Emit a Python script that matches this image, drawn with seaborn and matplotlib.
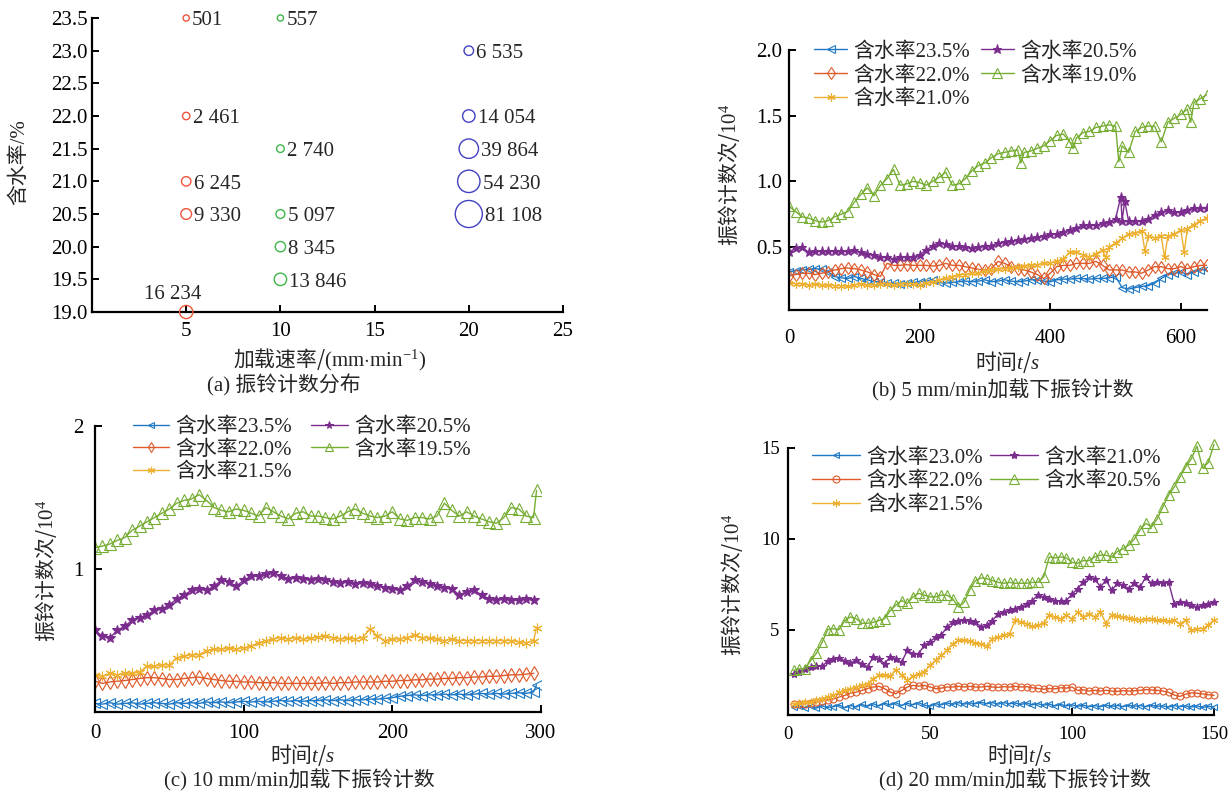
import numpy as np
import pandas as pd
import matplotlib
matplotlib.use("Agg")
import matplotlib.pyplot as plt
import seaborn as sns

sns.set_theme(style="ticks")
plt.rcParams['font.family'] = ['Liberation Serif', 'Noto Sans CJK SC', 'DejaVu Serif']
plt.rcParams['mathtext.fontset'] = 'custom'
plt.rcParams['mathtext.rm'] = 'Liberation Serif'
plt.rcParams['mathtext.it'] = 'Liberation Serif:italic'
plt.rcParams['mathtext.bf'] = 'Liberation Serif:bold'
plt.rcParams['axes.unicode_minus'] = False

# ---------------- (a) ring-down count distribution ----------------
A_RATE = [5, 5, 5, 5, 5,
          10, 10, 10, 10, 10,
          20, 20, 20, 20, 20]
A_WATER = [23.5, 22.0, 21.0, 20.5, 19.0,
           23.5, 21.5, 20.5, 20.0, 19.5,
           23.0, 22.0, 21.5, 21.0, 20.5]
A_COUNT = [501, 2461, 6245, 9330, 16234,
           557, 2740, 5097, 8345, 13846,
           6535, 14054, 39864, 54230, 81108]

# ---------------- (b) 5 mm/min ----------------
B_T = np.arange(0, 641, 10)
B_235 = [0.31, 0.32, 0.325, 0.33, 0.335, 0.33, 0.31, 0.275, 0.265, 0.26,
         0.275, 0.26, 0.25, 0.235, 0.235, 0.225, 0.225, 0.22, 0.225, 0.23,
         0.235, 0.24, 0.25, 0.23, 0.225, 0.23, 0.235, 0.24, 0.235, 0.24,
         0.25, 0.235, 0.24, 0.25, 0.24, 0.235, 0.24, 0.25, 0.25, 0.24,
         0.235, 0.25, 0.255, 0.255, 0.26, 0.26, 0.255, 0.26, 0.26, 0.265,
         0.275, 0.19, 0.18, 0.19, 0.20, 0.205, 0.225, 0.26, 0.29, 0.30,
         0.31, 0.29, 0.31, 0.325, 0.33]
B_220 = [0.28, 0.29, 0.30, 0.30, 0.29, 0.30, 0.31, 0.325, 0.335, 0.34,
         0.335, 0.325, 0.31, 0.29, 0.275, 0.375, 0.36, 0.36, 0.365, 0.36,
         0.36, 0.36, 0.355, 0.36, 0.375, 0.36, 0.36, 0.35, 0.34, 0.33,
         0.325, 0.335, 0.39, 0.375, 0.35, 0.335, 0.325, 0.31, 0.29, 0.26,
         0.30, 0.35, 0.36, 0.36, 0.375, 0.375, 0.375, 0.39, 0.36, 0.325,
         0.325, 0.325, 0.31, 0.31, 0.30, 0.325, 0.35, 0.35, 0.335, 0.335,
         0.35, 0.335, 0.35, 0.36, 0.36]
B_210 = [0.225, 0.22, 0.22, 0.21, 0.22, 0.21, 0.21, 0.205, 0.205, 0.20,
         0.21, 0.22, 0.21, 0.21, 0.22, 0.22, 0.21, 0.22, 0.22, 0.22,
         0.21, 0.225, 0.23, 0.25, 0.26, 0.275, 0.29, 0.29, 0.30, 0.305,
         0.315, 0.325, 0.33, 0.335, 0.34, 0.35, 0.355, 0.36, 0.365, 0.375,
         0.38, 0.39, 0.41, 0.46, 0.46, 0.44, 0.425, 0.45, 0.475, 0.50,
         0.53, 0.565, 0.60, 0.61, 0.62, 0.58, 0.57, 0.58, 0.58, 0.60,
         0.63, 0.64, 0.67, 0.70, 0.72]
B_205 = [0.46, 0.49, 0.50, 0.46, 0.47, 0.47, 0.47, 0.47, 0.47, 0.47,
         0.475, 0.46, 0.45, 0.44, 0.425, 0.42, 0.41, 0.42, 0.425, 0.425,
         0.44, 0.475, 0.51, 0.53, 0.52, 0.51, 0.51, 0.50, 0.49, 0.50,
         0.51, 0.51, 0.53, 0.54, 0.545, 0.55, 0.56, 0.565, 0.575, 0.585,
         0.595, 0.60, 0.615, 0.63, 0.645, 0.665, 0.67, 0.665, 0.68, 0.69,
         0.715, 0.70, 0.695, 0.695, 0.70, 0.715, 0.74, 0.765, 0.78, 0.765,
         0.77, 0.785, 0.795, 0.80, 0.80]
B_190 = [0.81, 0.77, 0.73, 0.72, 0.70, 0.69, 0.70, 0.73, 0.75, 0.77,
         0.84, 0.90, 0.95, 0.89, 0.97, 1.02, 1.09, 0.97, 0.98, 1.00,
         0.99, 0.97, 1.00, 1.03, 1.07, 0.97, 0.98, 1.02, 1.08, 1.12,
         1.14, 1.18, 1.21, 1.22, 1.23, 1.24, 1.22, 1.23, 1.25, 1.27,
         1.31, 1.35, 1.36, 1.30, 1.33, 1.37, 1.38, 1.41, 1.42, 1.43,
         1.42, 1.27, 1.22, 1.38, 1.41, 1.42, 1.42, 1.30, 1.45, 1.48,
         1.51, 1.55, 1.60, 1.63, 1.66]
# isolated sharp excursions between grid samples
B_190_ST, B_190_SV = [355, 435, 505, 615], [1.14, 1.25, 1.15, 1.45]
B_205_ST, B_205_SV = [508, 514], [0.88, 0.85]
B_210_ST, B_210_SV = [485, 545, 575, 605], [0.42, 0.47, 0.42, 0.46]

# ---------------- (c) 10 mm/min ----------------
C_T = np.arange(0, 296, 5)
C_235 = [0.06, 0.055, 0.065, 0.055, 0.06, 0.065, 0.055, 0.06, 0.065, 0.06,
         0.055, 0.065, 0.06, 0.065, 0.06, 0.07, 0.065, 0.07, 0.065, 0.07,
         0.075, 0.07, 0.075, 0.07, 0.075, 0.08, 0.075, 0.08, 0.075, 0.08,
         0.08, 0.085, 0.08, 0.085, 0.08, 0.085, 0.085, 0.09, 0.09, 0.095,
         0.10, 0.11, 0.115, 0.12, 0.115, 0.12, 0.12, 0.125, 0.12, 0.125,
         0.12, 0.125, 0.13, 0.125, 0.13, 0.125, 0.13, 0.135, 0.13, 0.14]
C_220 = [0.215, 0.20, 0.21, 0.215, 0.22, 0.227, 0.234, 0.24, 0.24, 0.234,
         0.227, 0.227, 0.234, 0.24, 0.244, 0.234, 0.227, 0.22, 0.215, 0.215,
         0.21, 0.21, 0.205, 0.205, 0.205, 0.20, 0.20, 0.20, 0.20, 0.20,
         0.20, 0.205, 0.20, 0.205, 0.205, 0.21, 0.21, 0.21, 0.21, 0.215,
         0.215, 0.22, 0.22, 0.225, 0.225, 0.23, 0.23, 0.235, 0.235, 0.24,
         0.24, 0.245, 0.245, 0.25, 0.25, 0.255, 0.26, 0.26, 0.265, 0.27]
C_215 = [0.26, 0.25, 0.27, 0.26, 0.27, 0.27, 0.28, 0.32, 0.32, 0.33,
         0.33, 0.38, 0.39, 0.40, 0.40, 0.43, 0.44, 0.44, 0.445, 0.44,
         0.45, 0.46, 0.485, 0.50, 0.51, 0.52, 0.51, 0.52, 0.51, 0.515,
         0.525, 0.53, 0.52, 0.51, 0.515, 0.51, 0.52, 0.58, 0.53, 0.50,
         0.51, 0.51, 0.52, 0.54, 0.52, 0.515, 0.51, 0.50, 0.51, 0.50,
         0.50, 0.50, 0.50, 0.50, 0.50, 0.50, 0.50, 0.49, 0.485, 0.50]
C_205 = [0.57, 0.53, 0.52, 0.57, 0.60, 0.64, 0.66, 0.68, 0.71, 0.72,
         0.75, 0.79, 0.82, 0.85, 0.86, 0.85, 0.88, 0.92, 0.91, 0.88,
         0.92, 0.95, 0.95, 0.965, 0.97, 0.95, 0.93, 0.94, 0.93, 0.92,
         0.93, 0.92, 0.91, 0.90, 0.91, 0.895, 0.90, 0.895, 0.88, 0.87,
         0.86, 0.85, 0.88, 0.92, 0.91, 0.895, 0.88, 0.87, 0.86, 0.82,
         0.84, 0.85, 0.82, 0.79, 0.78, 0.79, 0.78, 0.78, 0.79, 0.78]
C_195 = [1.15, 1.16, 1.175, 1.20, 1.22, 1.27, 1.30, 1.33, 1.36, 1.39,
         1.42, 1.46, 1.48, 1.49, 1.52, 1.48, 1.43, 1.41, 1.40, 1.42,
         1.41, 1.39, 1.37, 1.43, 1.40, 1.37, 1.35, 1.39, 1.40, 1.37,
         1.37, 1.36, 1.35, 1.37, 1.40, 1.42, 1.39, 1.37, 1.36, 1.37,
         1.40, 1.35, 1.34, 1.36, 1.36, 1.35, 1.37, 1.46, 1.41, 1.37,
         1.40, 1.37, 1.35, 1.33, 1.32, 1.36, 1.43, 1.42, 1.37, 1.36]
C_195_ST, C_195_SV = [297], [1.55]
C_215_ST, C_215_SV = [297], [0.59]
C_235_ST, C_235_SV = [297], [0.19]

# ---------------- (d) 20 mm/min ----------------
D_T = np.arange(2, 151, 2)
D_230 = [0.72, 0.80, 0.70, 0.78, 0.68, 0.80, 0.72, 0.76, 0.85, 0.70,
         0.82, 0.74, 0.88, 0.78, 0.92, 0.80, 0.95, 0.85, 0.98, 0.82,
         0.95, 0.86, 0.98, 0.84, 0.78, 0.92, 0.86, 0.96, 0.88, 0.98,
         0.90, 0.96, 0.92, 1.00, 0.92, 0.98, 0.90, 0.98, 0.92, 0.96,
         0.88, 0.96, 0.86, 0.92, 0.84, 0.90, 0.80, 0.88, 0.80, 0.86,
         0.78, 0.84, 0.76, 0.82, 0.76, 0.84, 0.78, 0.82, 0.76, 0.84,
         0.78, 0.82, 0.76, 0.84, 0.78, 0.80, 0.74, 0.82, 0.76, 0.80,
         0.74, 0.80, 0.72, 0.78, 0.74]
D_220 = [0.92, 0.88, 0.92, 0.96, 1.01, 1.07, 1.14, 1.19, 1.29, 1.38,
         1.51, 1.56, 1.65, 1.75, 1.84, 1.88, 1.75, 1.56, 1.47, 1.65,
         1.84, 1.93, 1.89, 1.93, 1.84, 1.75, 1.78, 1.84, 1.84, 1.88,
         1.84, 1.88, 1.84, 1.84, 1.88, 1.84, 1.82, 1.86, 1.84, 1.88,
         1.84, 1.86, 1.80, 1.76, 1.72, 1.76, 1.74, 1.80, 1.78, 1.84,
         1.65, 1.69, 1.62, 1.66, 1.62, 1.66, 1.62, 1.60, 1.64, 1.62,
         1.64, 1.66, 1.70, 1.68, 1.66, 1.62, 1.55, 1.40, 1.32, 1.45,
         1.52, 1.50, 1.46, 1.42, 1.38]
D_215 = [0.92, 0.96, 1.01, 1.01, 1.14, 1.19, 1.29, 1.38, 1.56, 1.65,
         1.75, 1.84, 1.93, 2.02, 2.30, 2.48, 2.48, 2.43, 2.80, 2.50,
         2.20, 2.45, 2.57, 2.67, 3.03, 3.31, 3.58, 3.86, 4.23, 4.41,
         4.41, 4.38, 4.26, 4.23, 4.08, 4.50, 4.60, 4.69, 4.78, 5.51,
         5.42, 5.33, 5.18, 5.24, 5.37, 5.79, 5.70, 5.60, 5.79, 5.60,
         5.97, 5.70, 5.88, 5.70, 5.97, 5.33, 5.79, 5.74, 5.70, 5.66,
         5.60, 5.55, 5.58, 5.60, 5.51, 5.51, 5.48, 5.51, 5.33, 5.51,
         4.96, 5.06, 5.06, 5.24, 5.55]
D_210 = [2.57, 2.67, 2.85, 2.94, 2.98, 2.98, 3.27, 3.40, 3.46, 3.27,
         3.16, 3.31, 3.13, 2.94, 3.50, 3.40, 3.13, 3.50, 3.40, 3.20,
         3.86, 3.68, 3.68, 4.14, 4.32, 4.60, 4.70, 5.15, 5.42, 5.50,
         5.55, 5.50, 5.42, 5.15, 5.24, 5.50, 5.88, 5.97, 6.07, 6.16,
         6.25, 6.43, 6.60, 6.90, 6.80, 6.70, 6.60, 6.58, 6.60, 6.95,
         7.26, 7.63, 7.90, 7.80, 7.35, 7.72, 7.17, 7.54, 7.45, 7.26,
         7.54, 7.35, 7.90, 7.54, 7.63, 7.54, 7.63, 6.43, 6.52, 6.47,
         6.34, 6.25, 6.34, 6.43, 6.52]
D_205 = [2.76, 2.85, 2.85, 3.30, 3.70, 4.30, 5.00, 5.05, 5.00, 5.50,
         5.70, 5.60, 5.35, 5.35, 5.40, 5.50, 5.60, 6.05, 6.35, 6.60,
         6.45, 6.80, 7.00, 6.90, 6.80, 6.80, 6.90, 6.90, 6.70, 6.25,
         6.50, 7.20, 7.70, 7.85, 7.80, 7.70, 7.60, 7.55, 7.60, 7.55,
         7.55, 7.55, 7.60, 7.60, 7.90, 9.00, 8.95, 9.00, 8.95, 8.70,
         8.65, 8.80, 8.80, 9.00, 9.10, 9.10, 9.00, 9.30, 9.45, 9.65,
         10.00, 10.50, 10.85, 10.65, 11.10, 11.75, 12.40, 12.85, 13.40, 13.95,
         14.40, 15.10, 13.90, 14.20, 15.20]

# ---------------- styling ----------------
COL_BLUE = '#1f78c4'
COL_RED = '#de5a2a'
COL_YEL = '#eeb030'
COL_PUR = '#7b2d8e'
COL_GRN = '#76ad33'
BUBBLE_COLS = {5: '#f0553c', 10: '#3db54a', 20: '#4141c2'}
FS = 15
CJK = ['Noto Sans CJK SC']


def merged(t, v, st=(), sv=()):
    tt = np.concatenate([np.asarray(t, float), np.asarray(st, float)])
    vv = np.concatenate([np.asarray(v, float), np.asarray(sv, float)])
    order = np.argsort(tt, kind='stable')
    return tt[order], vv[order]


def draw_series(ax, t, v, color, marker, label, filled=False, ms=5.5):
    df = pd.DataFrame({'t': t, 'v': v})
    sns.lineplot(data=df, x='t', y='v', ax=ax, color=color, marker=marker,
                 markersize=ms, markerfacecolor=color if filled else 'none',
                 markeredgecolor=color, markeredgewidth=0.8, linewidth=1.0,
                 label=label, estimator=None, sort=True, legend=False)


def style_axes(ax, tick_fs=FS, xpad=6, ypad=5):
    for s in ('top', 'right'):
        ax.spines[s].set_visible(False)
    for s in ('left', 'bottom'):
        ax.spines[s].set_linewidth(1.6)
        ax.spines[s].set_color('black')
    ax.tick_params(direction='in', length=5, width=1.4, colors='black',
                   labelsize=tick_fs)
    ax.tick_params(axis='x', pad=xpad)
    ax.tick_params(axis='y', pad=ypad)
    ax.set_xlabel('')
    ax.set_ylabel('')
    ax.set_facecolor('white')


W, H = 1229, 792
fig = plt.figure(figsize=(W / 100, H / 100), dpi=100)
fig.patch.set_facecolor('white')


def box(l, t, r, b):
    return [l / W, 1 - b / H, (r - l) / W, (b - t) / H]


def ftext(x, y, s, **kw):
    kw.setdefault('fontsize', FS)
    fig.text(x / W, 1 - y / H, s, ha='center', va='center', **kw)


TIME_LABEL = r'时间$t$/$s$'
COUNT_LABEL = r'振铃计数次/$\mathrm{10}^{4}$'

# ---- (a)
axa = fig.add_axes(box(92, 18, 563, 312))
dfa = pd.DataFrame({'rate': A_RATE, 'water': A_WATER, 'count': A_COUNT})
sns.scatterplot(data=dfa, x='rate', y='water', hue='rate', palette=BUBBLE_COLS,
                size='count', sizes=(20, 380), size_norm=(501, 81108),
                legend=False, ax=axa, clip_on=False, zorder=3)
coll = axa.collections[0]
fc = coll.get_facecolors()
coll.set_edgecolors(fc)
coll.set_facecolors('none')
coll.set_linewidth(1.0)
axa.set_xlim(0, 25)
axa.set_ylim(19.0, 23.5)
axa.set_xticks([5, 10, 15, 20, 25])
axa.set_yticks(np.arange(19.0, 23.51, 0.5))
axa.set_yticklabels([f'{v:.1f}' for v in np.arange(19.0, 23.51, 0.5)])
style_axes(axa, xpad=7, ypad=3)
areas = 20 + (np.array(A_COUNT) - 501) / (81108 - 501) * 360
for x, y, c, s in zip(A_RATE, A_WATER, A_COUNT, areas):
    txt = f'{c:,}'.replace(',', ' ')
    if y == 19.0:
        axa.annotate(txt, (x, y), xytext=(-10, 6), textcoords='offset points',
                     ha='center', va='bottom', fontsize=FS)
    else:
        axa.annotate(txt, (x, y), xytext=(np.sqrt(s) / 2 + 2, -2),
                     textcoords='offset points', ha='left', va='center',
                     fontsize=FS)
ftext(330, 360, r'加载速率/$\mathrm{(mm{\cdot}min}^{-1}\mathrm{)}$', family=CJK)
ftext(284, 385, '(a) 振铃计数分布')
ftext(19, 162, '含水率/%', rotation=90)

# ---- (b)
axb = fig.add_axes(box(789, 50, 1207, 310))
draw_series(axb, B_T, B_235, COL_BLUE, '<', '含水率23.5%')
draw_series(axb, B_T, B_220, COL_RED, 'd', '含水率22.0%', ms=6)
t, v = merged(B_T, B_210, B_210_ST, B_210_SV)
draw_series(axb, t, v, COL_YEL, (6, 2, 0), '含水率21.0%', ms=6)
t, v = merged(B_T, B_205, B_205_ST, B_205_SV)
draw_series(axb, t, v, COL_PUR, '*', '含水率20.5%', filled=True, ms=6.5)
t, v = merged(B_T, B_190, B_190_ST, B_190_SV)
draw_series(axb, t, v, COL_GRN, '^', '含水率19.0%', ms=7)
axb.set_xlim(0, 640)
axb.set_ylim(0.02, 2.0)
axb.set_xticks([0, 200, 400, 600])
axb.set_yticks([0.5, 1.0, 1.5, 2.0])
axb.set_yticklabels(['0.5', '1.0', '1.5', '2.0'])
style_axes(axb, xpad=14, ypad=5)
axb.legend(ncol=2, loc='upper left', bbox_to_anchor=(0.06, 1.03),
           frameon=False, fontsize=FS, handlelength=1.6, handletextpad=0.3,
           columnspacing=0.5, labelspacing=0.2, borderaxespad=0, borderpad=0)
ftext(1008, 362, TIME_LABEL, family=CJK)
ftext(1003, 390, '(b) 5 mm/min加载下振铃计数')
ftext(729, 175, COUNT_LABEL, rotation=90, family=CJK)

# ---- (c)
axc = fig.add_axes(box(95, 426, 541, 712))
t, v = merged(C_T, C_235, C_235_ST, C_235_SV)
draw_series(axc, t, v, COL_BLUE, '<', '含水率23.5%', ms=6.5)
draw_series(axc, C_T, C_220, COL_RED, 'd', '含水率22.0%', ms=7)
t, v = merged(C_T, C_215, C_215_ST, C_215_SV)
draw_series(axc, t, v, COL_YEL, (6, 2, 0), '含水率21.5%', ms=7)
draw_series(axc, C_T, C_205, COL_PUR, '*', '含水率20.5%', filled=True, ms=7.5)
t, v = merged(C_T, C_195, C_195_ST, C_195_SV)
draw_series(axc, t, v, COL_GRN, '^', '含水率19.5%', ms=8)
axc.set_xlim(0, 300)
axc.set_ylim(0, 2)
axc.set_xticks([0, 100, 200, 300])
axc.set_yticks([1, 2])
style_axes(axc, xpad=9, ypad=8)
axc.legend(ncol=2, loc='upper left', bbox_to_anchor=(0.085, 1.03),
           frameon=False, fontsize=FS, handlelength=1.75, handletextpad=0.3,
           columnspacing=0.9, labelspacing=0.15, borderaxespad=0, borderpad=0,
           markerscale=0.75)
ftext(303, 755, TIME_LABEL, family=CJK)
ftext(299, 780, '(c) 10 mm/min加载下振铃计数')
ftext(46, 571, COUNT_LABEL, rotation=90, family=CJK)

# ---- (d)
axd = fig.add_axes(box(788, 448, 1214, 715))
draw_series(axd, D_T, D_230, COL_BLUE, '<', '含水率23.0%', ms=5)
draw_series(axd, D_T, D_220, COL_RED, 'o', '含水率22.0%', ms=5)
draw_series(axd, D_T, D_215, COL_YEL, (6, 2, 0), '含水率21.5%', ms=5.5)
draw_series(axd, D_T, D_210, COL_PUR, '*', '含水率21.0%', filled=True, ms=6)
draw_series(axd, D_T, D_205, COL_GRN, '^', '含水率20.5%', ms=6.5)
axd.set_xlim(0, 150)
axd.set_ylim(0.3, 15)
axd.set_xticks([0, 50, 100, 150])
axd.set_yticks([5, 10, 15])
style_axes(axd, tick_fs=13.5, xpad=8, ypad=6)
for ln in axd.get_lines():
    ln.set_clip_on(False)
axd.legend(ncol=2, loc='upper left', bbox_to_anchor=(0.056, 1.0),
           frameon=False, fontsize=FS, handlelength=2.3, handletextpad=0.3,
           columnspacing=0.35, labelspacing=0.2, borderaxespad=0, borderpad=0)
ftext(1020, 755, TIME_LABEL, family=CJK)
ftext(1015, 780, '(d) 20 mm/min加载下振铃计数')
ftext(732, 585, COUNT_LABEL, rotation=90, family=CJK)

fig.savefig('out.png', dpi=100, facecolor='white')
